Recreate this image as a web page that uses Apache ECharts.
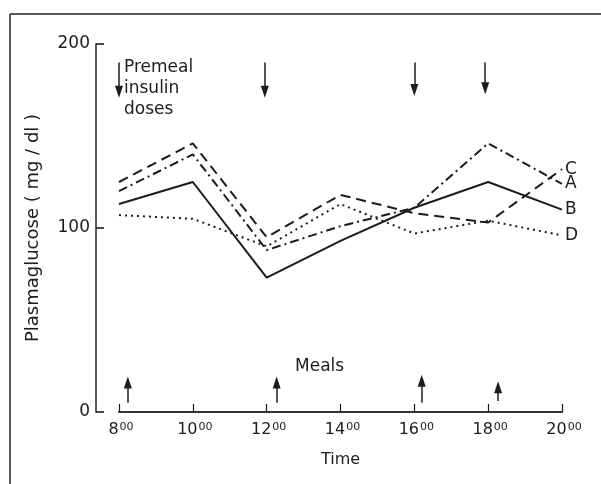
<!DOCTYPE html>
<html>
<head>
<meta charset="utf-8">
<script src="https://cdn.jsdelivr.net/npm/echarts@6/dist/echarts.min.js"></script>
<style>
html,body{margin:0;padding:0;background:#fff;}
#chart{width:601px;height:484px;}
</style>
</head>
<body>
<div id="chart"></div>
<script>
// ---- data ----
var times = [8, 10, 12, 14, 16, 18, 20];
var seriesA = [120, 140, 88, 101, 111, 146, 124];
var seriesB = [113, 125, 73, 93, 111, 125, 110];
var seriesC = [125, 146, 95, 118, 108, 103, 132];
var seriesD = [107, 105, 90, 113, 97, 104, 96];
var xTickValues = [8, 10, 12, 14, 16, 18, 20];
var yTickValues = [0, 100, 200];
var doseTimes = [8.0, 11.95, 16.0, 17.92];
var doseArrowFrom = [190, 190, 190, 190];
var doseArrowTo = [174, 174, 175, 176];
var mealTimes = [8.24, 12.27, 16.2, 18.27];
var mealArrowFrom = [5, 5, 5, 6];
var mealArrowTo = [16, 16, 17, 13.5];

var FONT = 'DejaVu Sans';
var INK = '#1c1c1c';

function pairs(ys) { return times.map(function (t, i) { return [t, ys[i]]; }); }

var arrowLines = [];
doseTimes.forEach(function (t, i) {
  arrowLines.push([{ coord: [t, doseArrowFrom[i]] }, { coord: [t, doseArrowTo[i]] }]);
});
mealTimes.forEach(function (t, i) {
  arrowLines.push([{ coord: [t, mealArrowFrom[i]] }, { coord: [t, mealArrowTo[i]] }]);
});

function endLbl(txt) {
  return {
    show: true, formatter: txt, distance: 3,
    fontFamily: FONT, fontSize: 17, color: INK
  };
}

var chart = echarts.init(document.getElementById('chart'), null, { renderer: 'canvas' });
chart.setOption({
  animation: false,
  backgroundColor: '#fff',
  grid: { left: 119, right: 39, top: 44, bottom: 72, containLabel: false },
  xAxis: {
    type: 'value', min: 8, max: 20, interval: 2,
    name: 'Time', nameLocation: 'middle', nameGap: 40,
    nameTextStyle: { fontFamily: FONT, fontSize: 16, color: INK },
    axisLine: { show: true, lineStyle: { color: '#333', width: 2 } },
    axisTick: { show: true, inside: true, length: 8, lineStyle: { color: INK, width: 1.2 } },
    splitLine: { show: false },
    axisLabel: {
      margin: 10, padding: [0, 0, 0, 4],
      formatter: function (v) {
        return xTickValues.indexOf(v) >= 0 ? '{m|' + v + '}{s|00}' : '';
      },
      rich: {
        m: { fontFamily: FONT, fontSize: 16, color: INK, verticalAlign: 'bottom' },
        s: { fontFamily: FONT, fontSize: 11, color: INK, verticalAlign: 'top', padding: [0, 0, 0, 1] }
      }
    }
  },
  yAxis: {
    type: 'value', min: 0, max: 200, interval: 100, offset: 23,
    name: 'Plasmaglucose ( mg / dl )', nameLocation: 'middle', nameGap: 54,
    nameTextStyle: { fontFamily: FONT, fontSize: 18, color: INK },
    axisLine: { show: true, lineStyle: { color: '#333', width: 1.6 } },
    axisTick: { show: true, inside: true, length: 8, lineStyle: { color: INK, width: 1.6 } },
    splitLine: { show: false },
    axisLabel: {
      margin: 6, fontFamily: FONT, fontSize: 17, color: INK,
      formatter: function (v) { return yTickValues.indexOf(v) >= 0 ? String(v) : ''; }
    }
  },
  series: [
    {
      name: 'B', type: 'line', data: pairs(seriesB), symbol: 'none', clip: false,
      lineStyle: { color: INK, width: 2, type: 'solid' },
      endLabel: endLbl('B'),
      markLine: {
        silent: true, symbol: ['none', 'triangle'], symbolSize: [8, 12],
        label: { show: false },
        lineStyle: { color: INK, width: 1.5, type: 'solid' },
        data: arrowLines
      }
    },
    {
      name: 'C', type: 'line', data: pairs(seriesC), symbol: 'none',
      lineStyle: { color: INK, width: 2, type: [10, 6] },
      endLabel: endLbl('C')
    },
    {
      name: 'A', type: 'line', data: pairs(seriesA), symbol: 'none',
      lineStyle: { color: INK, width: 2, type: [9, 4, 2, 4] },
      endLabel: endLbl('A')
    },
    {
      name: 'D', type: 'line', data: pairs(seriesD), symbol: 'none',
      lineStyle: { color: INK, width: 2, type: [2, 4] },
      endLabel: endLbl('D')
    }
  ],
  graphic: [
    { type: 'line', shape: { x1: 10, y1: 14, x2: 601, y2: 14 }, style: { stroke: '#222', lineWidth: 1.5 }, silent: true },
    { type: 'line', shape: { x1: 10, y1: 14, x2: 10, y2: 484 }, style: { stroke: '#222', lineWidth: 1.5 }, silent: true },
    {
      type: 'text', left: 124, top: 57, silent: true,
      style: { text: 'Premeal\ninsulin\ndoses', fontFamily: FONT, fontSize: 17, lineHeight: 21, fill: INK }
    },
    {
      type: 'text', left: 295, top: 358, silent: true,
      style: { text: 'Meals', fontFamily: FONT, fontSize: 17, fill: INK }
    }
  ]
});
</script>
</body>
</html>
